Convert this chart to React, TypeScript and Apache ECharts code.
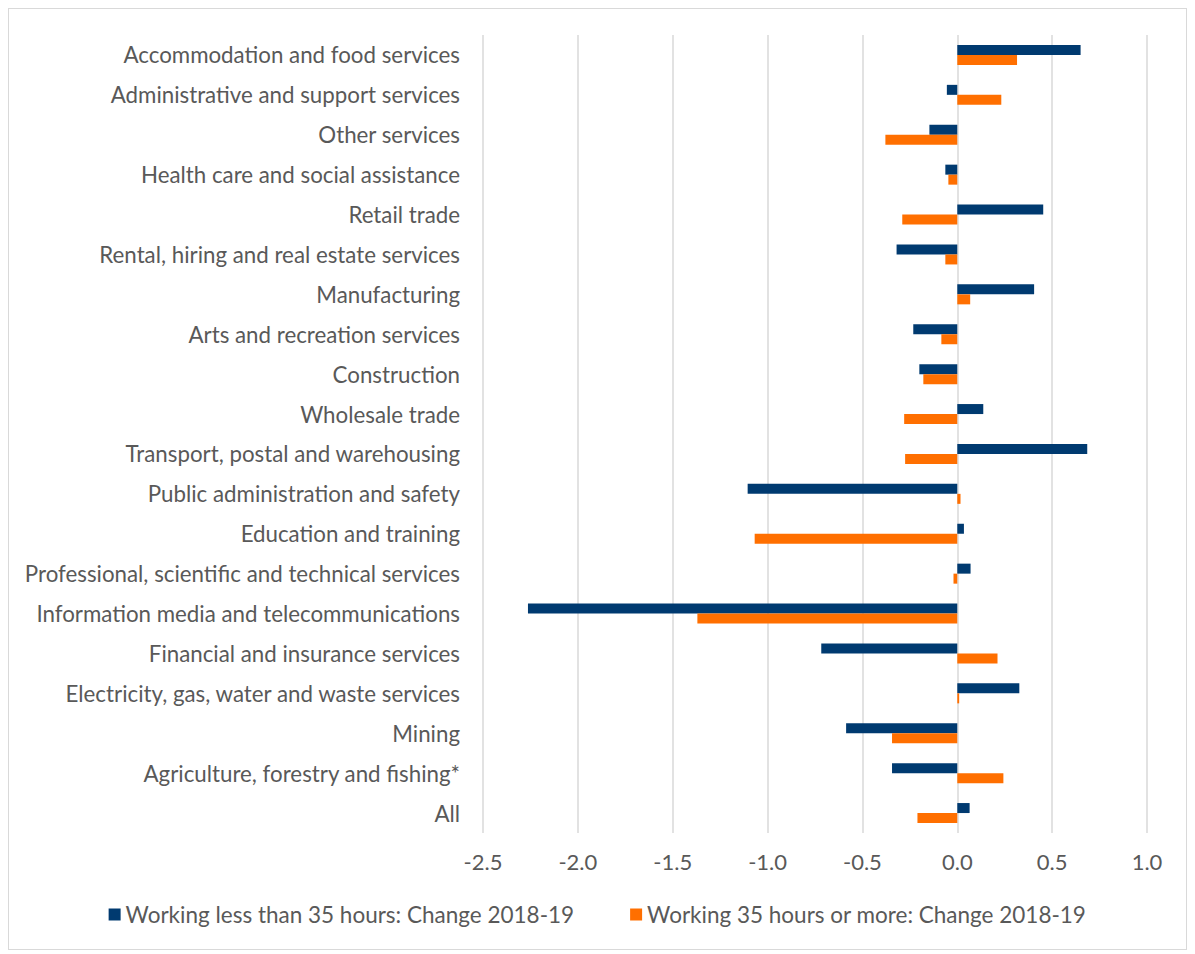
import React, { useEffect, useRef } from "react";
import * as echarts from "echarts";

const categories = [
  "Accommodation and food services",
  "Administrative and support services",
  "Other services",
  "Health care and social assistance",
  "Retail trade",
  "Rental, hiring and real estate services",
  "Manufacturing",
  "Arts and recreation services",
  "Construction",
  "Wholesale trade",
  "Transport, postal and warehousing",
  "Public administration and safety",
  "Education and training",
  "Professional, scientific and technical services",
  "Information media and telecommunications",
  "Financial and insurance services",
  "Electricity, gas, water and waste services",
  "Mining",
  "Agriculture, forestry and fishing*",
  "All",
];

const lessThan35 = [
  0.65, -0.055, -0.147, -0.063, 0.453, -0.32, 0.405, -0.232, -0.2, 0.137,
  0.685, -1.105, 0.035, 0.07, -2.263, -0.717, 0.327, -0.586, -0.344, 0.065,
];

const moreThan35 = [
  0.315, 0.232, -0.379, -0.047, -0.29, -0.063, 0.068, -0.084, -0.179, -0.28,
  -0.275, 0.017, -1.068, -0.02, -1.37, 0.212, 0.01, -0.344, 0.243, -0.21,
];

const seriesNames = [
  "Working less than 35 hours: Change 2018-19",
  "Working 35 hours or more: Change 2018-19",
];

const FONT = "Lato";
const TEXT = "#595959";

export default function App() {
  const ref = useRef<HTMLDivElement>(null);
  useEffect(() => {
    if (!ref.current) return;
    const chart = echarts.init(ref.current, undefined, { renderer: "svg" });
    chart.setOption({
      animation: false,
      textStyle: { fontFamily: FONT },
      grid: { left: 474, right: 39, top: 26, bottom: 116, containLabel: false },
      legend: {
        bottom: 18,
        left: "center",
        itemWidth: 12,
        itemHeight: 12,
        itemGap: 56,
        icon: "rect",
        textStyle: { color: TEXT, fontSize: 22.5, fontFamily: FONT },
        data: seriesNames,
      },
      xAxis: {
        type: "value",
        min: -2.5,
        max: 1.0,
        interval: 0.5,
        axisLine: { show: false },
        axisTick: { show: false },
        axisLabel: {
          color: TEXT,
          fontSize: 22,
          margin: 17,
          formatter: (v: number) => v.toFixed(1),
        },
        splitLine: { show: true, lineStyle: { color: "#d9d9d9", width: 1.5 } },
      },
      yAxis: {
        type: "category",
        data: categories,
        inverse: true,
        axisLine: { show: false },
        axisTick: { show: false },
        axisLabel: { color: TEXT, fontSize: 22.3, margin: 23 },
      },
      series: [
        {
          name: seriesNames[0],
          type: "bar",
          data: lessThan35,
          barWidth: 10,
          barGap: "0%",
          itemStyle: { color: "#003A70" },
        },
        {
          name: seriesNames[1],
          type: "bar",
          data: moreThan35,
          barWidth: 10,
          barGap: "0%",
          itemStyle: { color: "#FF6F00" },
        },
      ],
    });
    return () => chart.dispose();
  }, []);
  return (
    <div
      ref={ref}
      style={{
        width: 1179,
        height: 942,
        border: "1px solid #d9d9d9",
        boxSizing: "border-box",
      }}
    />
  );
}
